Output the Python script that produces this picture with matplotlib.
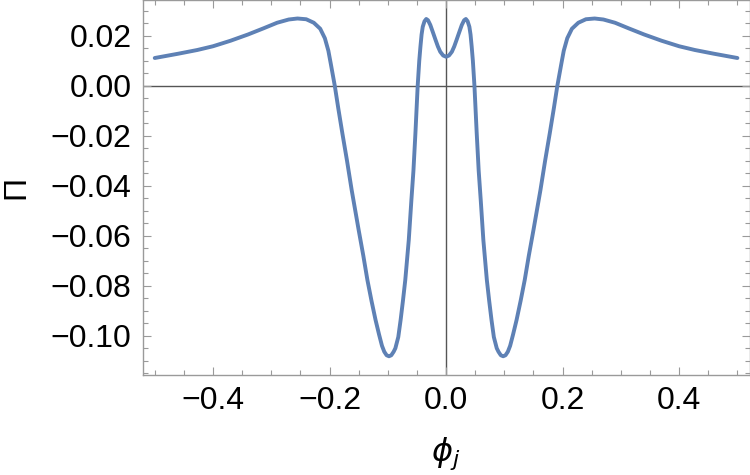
import matplotlib
matplotlib.use("Agg")
import matplotlib.pyplot as plt
from matplotlib.ticker import MultipleLocator, FuncFormatter

# Curve (phi_j, Pi)
PHI = [
    -0.500, -0.460, -0.427, -0.400, -0.370, -0.340, -0.313, -0.290, -0.270,
    -0.255, -0.240, -0.227, -0.216, -0.208, -0.202, -0.198, -0.191, -0.185,
    -0.178, -0.170, -0.162, -0.150, -0.142, -0.135, -0.128, -0.121, -0.115,
    -0.110, -0.106, -0.102, -0.098, -0.094, -0.090, -0.087, -0.082, -0.078,
    -0.074, -0.070, -0.064, -0.0595, -0.056, -0.0526, -0.0487, -0.046, -0.044,
    -0.042, -0.040, -0.037, -0.034, -0.031, -0.027, -0.022, -0.018, -0.014,
    -0.010, -0.005, 0.000,
    0.005, 0.010, 0.014, 0.018, 0.022, 0.027, 0.031, 0.034, 0.037,
    0.040, 0.042, 0.044, 0.046, 0.0487, 0.0526, 0.056, 0.0595, 0.064,
    0.070, 0.074, 0.078, 0.082, 0.087, 0.090, 0.094, 0.098, 0.102,
    0.106, 0.110, 0.115, 0.121, 0.128, 0.135, 0.142, 0.150, 0.162,
    0.170, 0.178, 0.185, 0.191, 0.198, 0.202, 0.208, 0.216, 0.227,
    0.240, 0.255, 0.270, 0.290, 0.313, 0.340, 0.370, 0.400, 0.427,
    0.460, 0.500,
]
PI_VAL = [
    0.0111, 0.0128, 0.0143, 0.0158, 0.0180, 0.0205, 0.0230, 0.0252, 0.0265,
    0.0269, 0.0266, 0.0252, 0.0228, 0.0190, 0.0140, 0.0090, 0.0000, -0.0090,
    -0.0190, -0.0300, -0.0417, -0.0577, -0.0680, -0.0777, -0.0860, -0.0937, -0.0995,
    -0.1040, -0.1064, -0.1078, -0.1082, -0.1078, -0.1064, -0.1050, -0.1005, -0.0937,
    -0.0860, -0.0777, -0.0617, -0.0457, -0.0340, -0.0190, 0.0000, 0.0100, 0.0156,
    0.0205, 0.0236, 0.0258, 0.0267, 0.0262, 0.0243, 0.0210, 0.0183, 0.0157,
    0.0136, 0.0121, 0.0116,
    0.0121, 0.0136, 0.0157, 0.0183, 0.0210, 0.0243, 0.0262, 0.0267, 0.0258,
    0.0236, 0.0205, 0.0156, 0.0100, 0.0000, -0.0190, -0.0340, -0.0457, -0.0617,
    -0.0777, -0.0860, -0.0937, -0.1005, -0.1050, -0.1064, -0.1078, -0.1082, -0.1078,
    -0.1064, -0.1040, -0.0995, -0.0937, -0.0860, -0.0777, -0.0680, -0.0577, -0.0417,
    -0.0300, -0.0190, -0.0090, 0.0000, 0.0090, 0.0140, 0.0190, 0.0228, 0.0252,
    0.0266, 0.0269, 0.0265, 0.0252, 0.0230, 0.0205, 0.0180, 0.0158, 0.0143,
    0.0128, 0.0111,
]

LINE_COLOR = "#5E81B5"
FRAME_COLOR = "#9a9a9a"

plt.rcParams["font.family"] = ["Liberation Sans", "DejaVu Sans"]
plt.rcParams["mathtext.fontset"] = "dejavusans"

fig = plt.figure(figsize=(7.5, 4.75), dpi=100)
ax = fig.add_axes([0.19, 0.2105, 0.8095, 0.7895])

ax.axhline(0, color="#555555", lw=1.0, zorder=1)
ax.axvline(0, color="#555555", lw=1.0, zorder=1)
ax.plot(PHI, PI_VAL, color=LINE_COLOR, lw=2.8, solid_joinstyle="round",
        solid_capstyle="round", zorder=3)

ax.set_xlim(-0.521, 0.521)
ax.set_ylim(-0.1157, 0.0343)

ax.xaxis.set_major_locator(MultipleLocator(0.2))
ax.xaxis.set_minor_locator(MultipleLocator(0.05))
ax.yaxis.set_major_locator(MultipleLocator(0.02))
ax.yaxis.set_minor_locator(MultipleLocator(0.005))

minus = "\u2212"
ax.xaxis.set_major_formatter(FuncFormatter(lambda v, p: f"{v:.1f}".replace("-", minus) if abs(v) > 1e-9 else "0.0"))
ax.yaxis.set_major_formatter(FuncFormatter(lambda v, p: f"{v:.2f}".replace("-", minus) if abs(v) > 1e-9 else "0.00"))

for side in ax.spines.values():
    side.set_color(FRAME_COLOR)
    side.set_linewidth(1.0)

ax.tick_params(which="both", direction="in", top=True, right=True, color=FRAME_COLOR, width=0.8)
ax.tick_params(which="major", length=6, labelsize=23, pad=8, labelcolor="black")
ax.tick_params(which="minor", length=3.5)

ax.set_xlabel(r"$\phi_j$", fontsize=23, labelpad=14)
ax.set_ylabel("Π", fontsize=23, labelpad=14)

fig.savefig("out.png", dpi=100)
